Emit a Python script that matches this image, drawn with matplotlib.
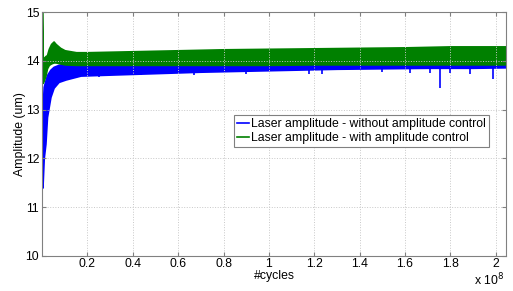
import numpy as np
import matplotlib
matplotlib.use('Agg')
import matplotlib.pyplot as plt

plt.rcParams['font.family'] = ['Liberation Sans', 'DejaVu Sans']

# Datos (x en unidades de 1e8 ciclos)
# Envolvente de la amplitud sin control
x_sin = [0.002, 0.0075, 0.015, 0.022, 0.037, 0.051, 0.073, 0.104, 0.17,
         0.3, 0.5, 0.7, 0.9, 1.1, 1.3, 1.5, 1.7, 1.9, 2.045]
inf_sin = [11.4, 12.0, 12.3, 12.85, 13.26, 13.45, 13.57, 13.62, 13.70,
           13.72, 13.75, 13.78, 13.80, 13.82, 13.84, 13.85, 13.86, 13.86, 13.87]
sup_sin = [13.0, 13.47, 13.60, 13.71, 13.82, 13.88, 13.92, 13.95, 13.95,
           13.96, 13.97, 13.98, 13.99, 14.0, 14.0, 14.0, 14.0, 14.0, 14.0]

# Picos hacia abajo de la amplitud sin control
x_picos = [0.25, 0.435, 0.67, 0.9, 1.175, 1.235, 1.5, 1.62, 1.71, 1.755,
           1.80, 1.887, 1.988]
y_picos = [13.68, 13.71, 13.72, 13.74, 13.73, 13.74, 13.77, 13.76, 13.76,
           13.44, 13.76, 13.73, 13.63]

# Envolvente de la amplitud con control
x_con = [0.0, 0.003, 0.008, 0.015, 0.022, 0.03, 0.04, 0.051, 0.06, 0.08,
         0.1, 0.15, 0.2, 0.4, 0.6, 0.8, 1.0, 1.2, 1.4, 1.6, 1.8, 2.0, 2.045]
sup_con = [15.0, 14.10, 14.05, 14.10, 14.12, 14.25, 14.35, 14.40, 14.35,
           14.27, 14.22, 14.18, 14.18, 14.20, 14.22, 14.24, 14.25, 14.26,
           14.27, 14.28, 14.30, 14.30, 14.30]
inf_con = [13.55, 13.55, 13.60, 13.70, 13.85, 13.92, 13.95, 13.97, 13.97,
           13.95, 13.93, 13.92, 13.92, 13.92, 13.92, 13.92, 13.92, 13.93,
           13.93, 13.93, 13.93, 13.93, 13.93]

azul = (0, 0, 1)
verde = (0, 0.5, 0)
fs = 8.8

fig = plt.figure(figsize=(5.13, 2.91), dpi=100)
ax = fig.add_axes([0.0819, 0.1213, 0.9045, 0.8364])

ax.fill_between(x_sin, inf_sin, sup_sin, color=azul, lw=1.2)
ax.vlines(x_picos, np.interp(x_picos, x_sin, inf_sin), y_picos,
          color=azul, lw=1.2)
ax.plot([], [], color=azul, lw=1.2,
        label='Laser amplitude - without amplitude control')
ax.fill_between(x_con, inf_con, sup_con, color=verde, lw=1.2)
ax.plot([], [], color=verde, lw=1.2,
        label='Laser amplitude - with amplitude control')

ax.set_xlim(0, 2.045)
ax.set_ylim(10, 15)
ax.set_xticks([0.2, 0.4, 0.6, 0.8, 1, 1.2, 1.4, 1.6, 1.8, 2])
ax.set_xticklabels(['0.2', '0.4', '0.6', '0.8', '1', '1.2', '1.4', '1.6',
                    '1.8', '2'])
ax.set_yticks([10, 11, 12, 13, 14, 15])
ax.tick_params(direction='in', length=3, labelsize=fs, color='#808080',
               top=True, right=True, pad=2)
for s in ax.spines.values():
    s.set_color('#808080')
    s.set_linewidth(0.8)
ax.grid(True, ls=':', color='#c8c8c8', lw=0.7)

ax.set_xlabel('#cycles', fontsize=fs, labelpad=0)
ax.set_ylabel('Amplitude (um)', fontsize=fs, labelpad=-0.5)
ax.text(0.995, -0.122, r'x 10$^{8}$', transform=ax.transAxes,
        fontsize=fs, ha='right', va='baseline')

leg = ax.legend(loc='lower right', bbox_to_anchor=(0.963, 0.447),
                fontsize=fs, fancybox=False, framealpha=1,
                edgecolor='#808080', handlelength=1.0, handletextpad=0.15,
                borderpad=0.25, labelspacing=0.15, borderaxespad=0)
leg.get_frame().set_linewidth(0.8)

fig.savefig('out.png', dpi=100)
